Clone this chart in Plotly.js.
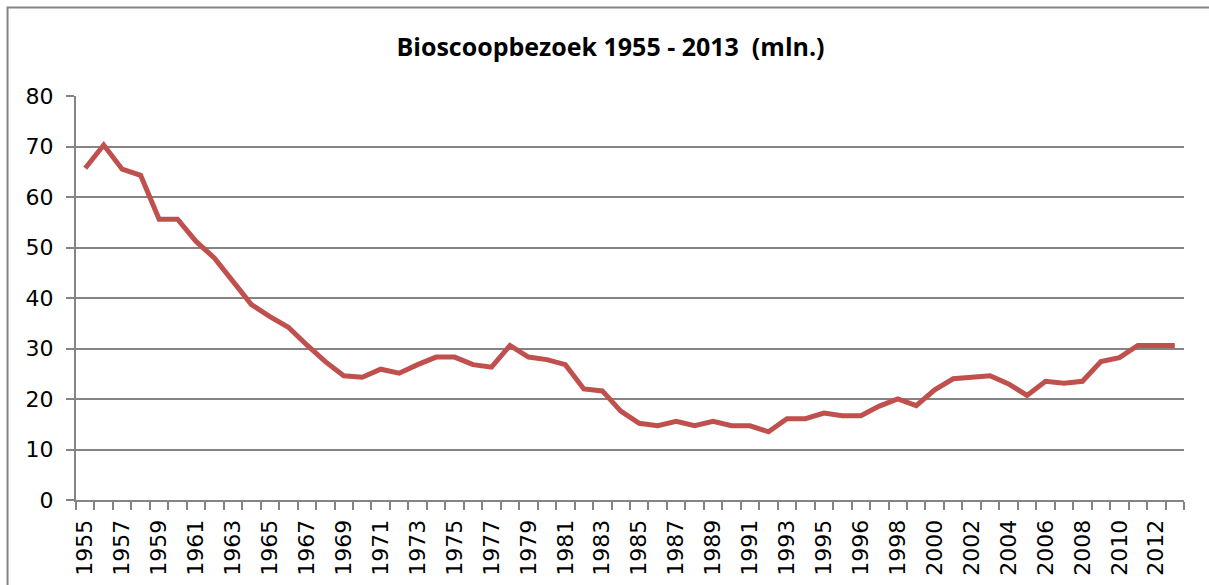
<!DOCTYPE html>
<html>
<head>
<meta charset="utf-8">
<script src="https://cdn.plot.ly/plotly-3.0.1.min.js"></script>
<style>
  html, body { margin: 0; padding: 0; background: #ffffff; }
  #chart { width: 1209px; height: 585px; }
</style>
</head>
<body>
<div id="chart"></div>
<script>
// Categories (years) as shown on the axis; the source data contains 1995 twice.
const years = [
  "1955","1956","1957","1958","1959","1960","1961","1962","1963","1964",
  "1965","1966","1967","1968","1969","1970","1971","1972","1973","1974",
  "1975","1976","1977","1978","1979","1980","1981","1982","1983","1984",
  "1985","1986","1987","1988","1989","1990","1991","1992","1993","1994",
  "1995","1995","1996","1997","1998","1999","2000","2001","2002","2003",
  "2004","2005","2006","2007","2008","2009","2010","2011","2012","2013"
];

// Cinema visits (millions)
const visits = [
  65.7, 70.3, 65.5, 64.3, 55.6, 55.6, 51.2, 47.9, 43.3, 38.7,
  36.3, 34.2, 30.7, 27.4, 24.6, 24.3, 25.9, 25.1, 26.8, 28.3,
  28.3, 26.8, 26.3, 30.6, 28.3, 27.8, 26.8, 22.0, 21.6, 17.6,
  15.2, 14.7, 15.6, 14.7, 15.6, 14.7, 14.7, 13.5, 16.1, 16.1,
  17.2, 16.7, 16.7, 18.6, 20.0, 18.7, 21.8, 24.0, 24.3, 24.6,
  23.0, 20.7, 23.5, 23.1, 23.5, 27.4, 28.2, 30.6, 30.6, 30.6
];

const yTicks = [0, 10, 20, 30, 40, 50, 60, 70, 80];

const idx = years.map((_, i) => i);
const labelIdx = idx.filter(i => i % 2 === 0);
const labelText = labelIdx.map(i => years[i]);

const grey = '#848484';
const tickFont = { family: "'DejaVu Sans', Verdana, sans-serif", size: 22, color: '#000000' };

const data = [{
  type: 'scatter',
  mode: 'lines',
  x: idx,
  y: visits,
  line: { color: '#C0504D', width: 5 },
  hoverinfo: 'x+y'
}];

const layout = {
  width: 1209,
  height: 585,
  margin: { l: 76, r: 25, t: 96, b: 85 },
  paper_bgcolor: '#ffffff',
  plot_bgcolor: '#ffffff',
  showlegend: false,
  title: {
    text: 'Bioscoopbezoek 1955 - 2013  (mln.)',
    font: { family: "'Open Sans', sans-serif", size: 25, color: '#000000', weight: 'bold' },
    x: 0.505,
    xanchor: 'center',
    y: 0.92,
    yanchor: 'middle'
  },
  xaxis: {
    range: [-0.5, idx.length - 0.5],
    tickmode: 'array',
    tickvals: labelIdx,
    ticktext: labelText,
    tickangle: -90,
    ticks: '',
    tickfont: tickFont,
    showgrid: false,
    zeroline: false,
    showline: true,
    linecolor: grey,
    linewidth: 2,
    ticklabelstandoff: 9,
    minor: {
      tickmode: 'linear',
      tick0: -0.5,
      dtick: 1,
      ticks: 'outside',
      ticklen: 8,
      tickwidth: 2,
      tickcolor: grey,
      showgrid: false
    }
  },
  yaxis: {
    range: [0, 80],
    tickmode: 'array',
    tickvals: yTicks,
    ticktext: yTicks.map(String),
    ticks: 'outside',
    ticklen: 8,
    tickwidth: 2,
    tickcolor: grey,
    tickfont: tickFont,
    ticklabelstandoff: 8,
    showgrid: true,
    gridcolor: grey,
    gridwidth: 2,
    zeroline: false,
    showline: true,
    linecolor: grey,
    linewidth: 2
  },
  shapes: [{
    type: 'rect',
    xref: 'paper', yref: 'paper',
    x0: -0.0618, x1: 1.5,
    y0: -0.5, y1: 1.219,
    line: { color: grey, width: 2 },
    fillcolor: 'rgba(0,0,0,0)',
    layer: 'below'
  }]
};

Plotly.newPlot('chart', data, layout, { displayModeBar: false, staticPlot: true });
</script>
</body>
</html>
